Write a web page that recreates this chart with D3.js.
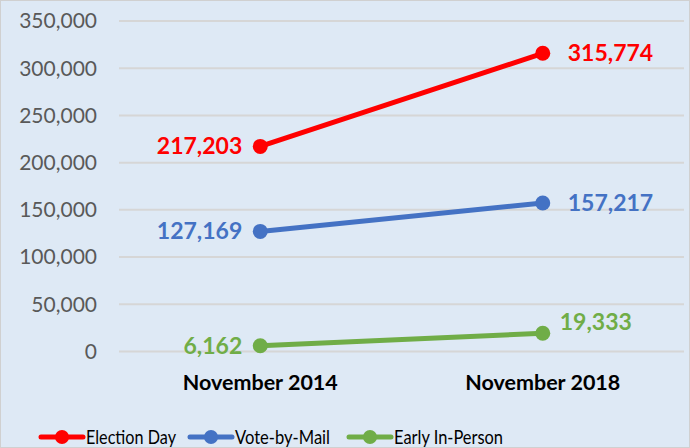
<!DOCTYPE html>
<html>
<head>
<meta charset="utf-8">
<script src="https://d3js.org/d3.v7.min.js"></script>
<style>
  body { margin: 0; background: #fff; }
  svg text { font-family: Lato, "Open Sans", sans-serif; }
</style>
</head>
<body>
<svg id="chart" width="690" height="448"></svg>
<script>
// data
const periods = ["November 2014", "November 2018"];
const seriesNames = ["Election Day", "Vote-by-Mail", "Early In-Person"];
const electionDay = [217203, 315774];
const voteByMail = [127169, 157217];
const earlyInPerson = [6162, 19333];
const yTicks = [0, 50000, 100000, 150000, 200000, 250000, 300000, 350000];
const colors = ["#FF0000", "#4472C4", "#70AD47"];

const series = [electionDay, voteByMail, earlyInPerson].map((vals, i) => ({
  name: seriesNames[i], color: colors[i], values: vals
}));

const svg = d3.select("svg#chart");
const width = +svg.attr("width");
const height = +svg.attr("height");

svg.append("rect")
   .attr("x", 0.5).attr("y", 0.5)
   .attr("width", width - 1).attr("height", height - 1)
   .attr("fill", "#DEE9F5")
   .attr("stroke", "#D0D0D0");

const plotLeft = 119, plotRight = 684, plotTop = 21, plotBottom = 351.5;

const x = d3.scalePoint().domain(periods).range([plotLeft, plotRight]).padding(0.5);
const y = d3.scaleLinear().domain([0, 350000]).range([plotBottom, plotTop]);

// grid + y labels
const yAxis = svg.append("g");
yAxis.selectAll("line").data(yTicks).join("line")
     .attr("x1", plotLeft).attr("x2", plotRight)
     .attr("y1", d => y(d)).attr("y2", d => y(d))
     .attr("stroke", "#D6D6D6").attr("stroke-width", 2);
yAxis.selectAll("text").data(yTicks).join("text")
     .attr("x", 97).attr("y", d => y(d))
     .attr("dy", "0.35em")
     .attr("text-anchor", "end")
     .attr("font-size", 21)
     .attr("fill", "#595959")
     .text(d => d3.format(",")(d));

// x labels
svg.append("g").selectAll("text").data(periods).join("text")
   .attr("x", d => x(d)).attr("y", 390)
   .attr("text-anchor", "middle")
   .attr("font-size", 21.5)
   .attr("font-weight", "bold")
   .attr("fill", "#000")
   .text(d => d);

const line = d3.line().x((d, i) => x(periods[i])).y(d => y(d));

const gs = svg.append("g").selectAll("g").data(series).join("g");
gs.append("path")
  .attr("d", d => line(d.values))
  .attr("fill", "none")
  .attr("stroke", d => d.color)
  .attr("stroke-width", 5)
  .attr("stroke-linecap", "round");
gs.selectAll("circle").data(d => d.values.map(v => ({v, c: d.color})))
  .join("circle")
  .attr("cx", (d, i) => x(periods[i]))
  .attr("cy", d => y(d.v))
  .attr("r", 7.5)
  .attr("fill", d => d.c);

// data labels
gs.each(function(s, si) {
  const g = d3.select(this);
  s.values.forEach((v, i) => {
    const isGreenRight = si === 2 && i === 1;
    g.append("text")
     .attr("x", i === 0 ? x(periods[i]) - 18 : x(periods[i]) + (isGreenRight ? 17 : 25))
     .attr("y", y(v) + (isGreenRight ? -11 : 0))
     .attr("dy", "0.35em")
     .attr("text-anchor", i === 0 ? "end" : "start")
     .attr("font-size", 23)
     .attr("font-weight", "bold")
     .attr("fill", s.color)
     .text(d3.format(",")(v));
  });
});

// legend
const legendX = [41, 190, 349];
const legendTextW = [90, 95, 109];
const lg = svg.append("g").selectAll("g").data(series).join("g")
   .attr("transform", (d, i) => `translate(${legendX[i]},437)`);
lg.append("line").attr("x1", 0).attr("x2", 42)
  .attr("stroke", d => d.color).attr("stroke-width", 5).attr("stroke-linecap", "round");
lg.append("circle").attr("cx", 21).attr("r", 7).attr("fill", d => d.color);
lg.append("text").attr("x", 45).attr("dy", "0.35em")
  .attr("font-size", 19).attr("fill", "#000")
  .attr("textLength", (d, i) => legendTextW[i])
  .attr("lengthAdjust", "spacingAndGlyphs")
  .text(d => d.name);
</script>
</body>
</html>
